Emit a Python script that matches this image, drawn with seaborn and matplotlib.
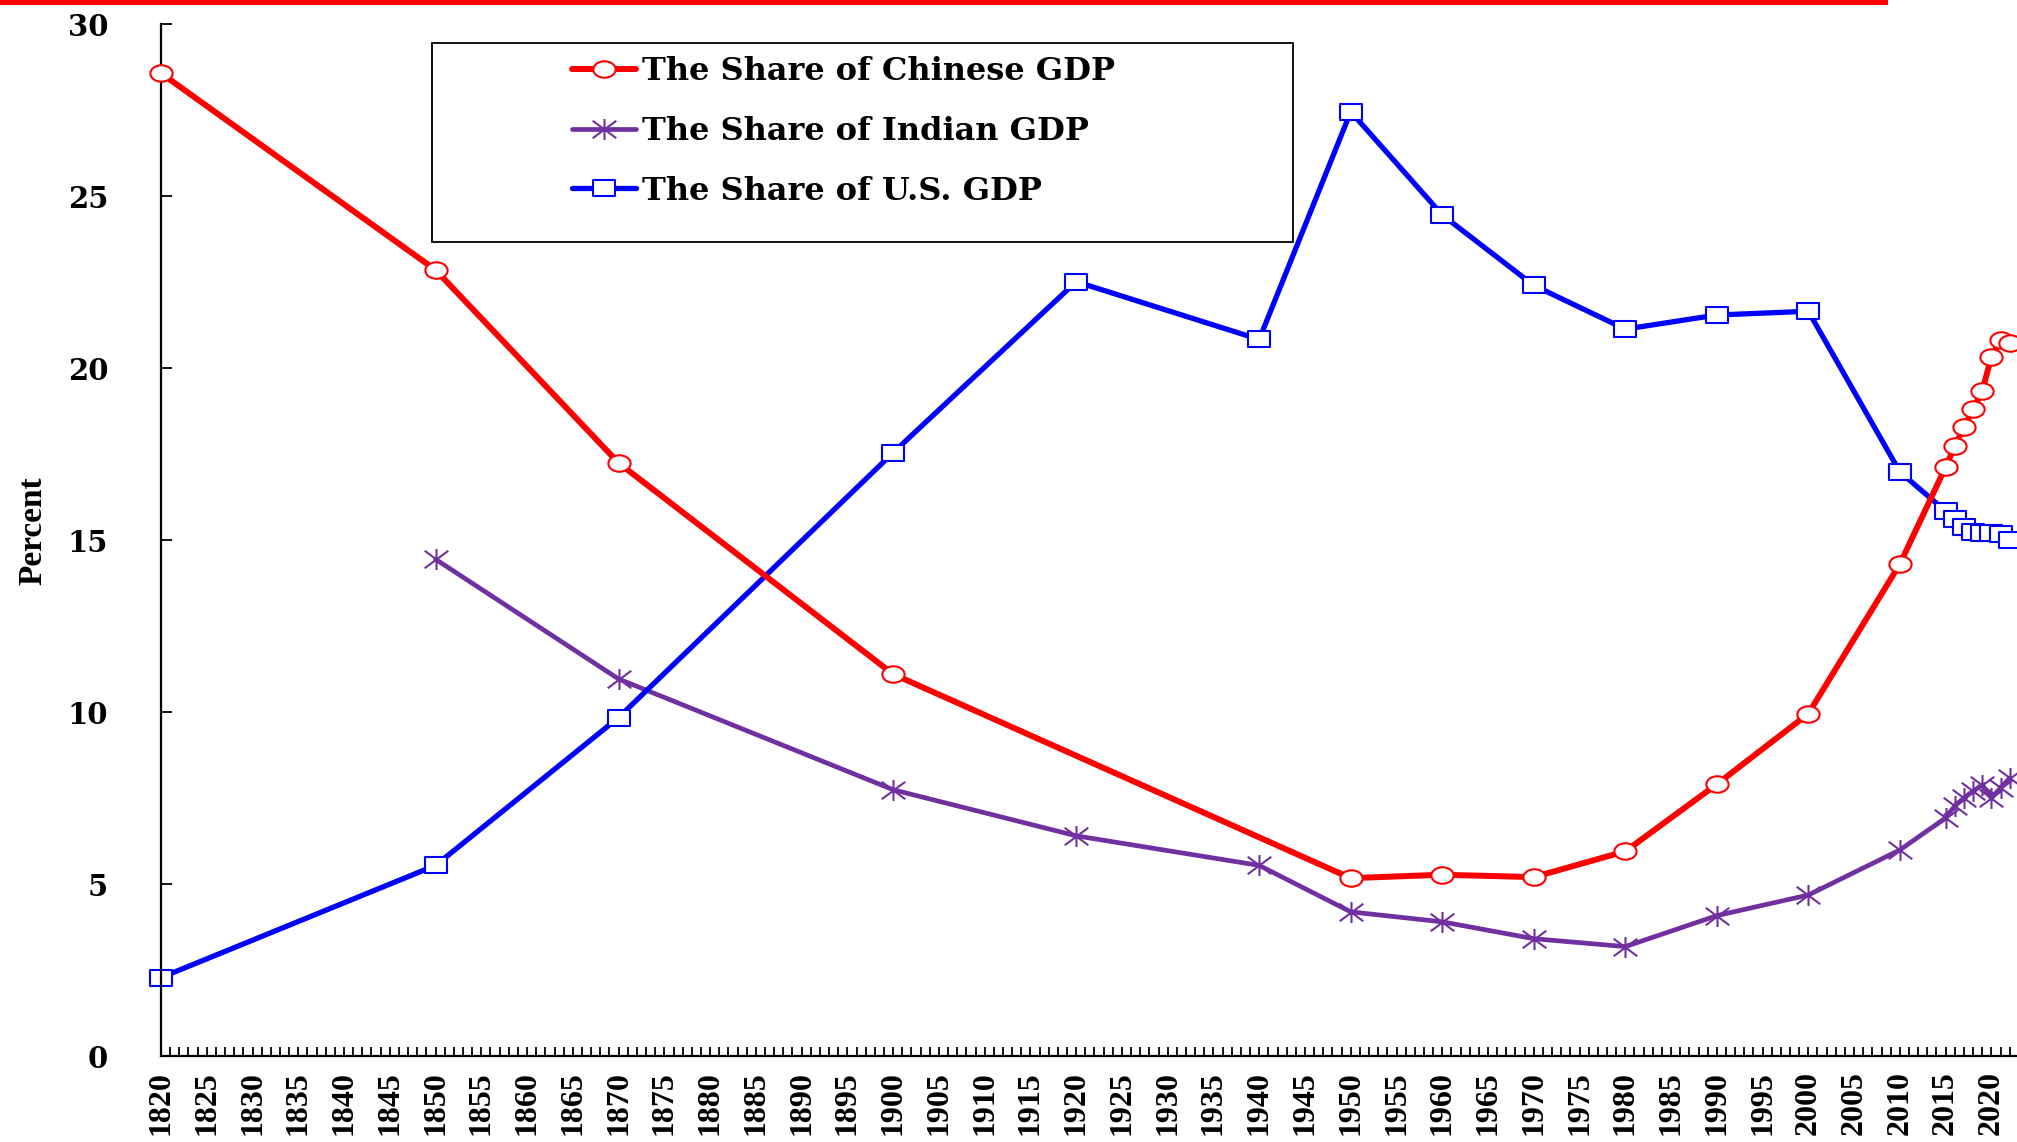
import numpy as np
import matplotlib
matplotlib.use("Agg")
import matplotlib.pyplot as plt
import seaborn as sns
from matplotlib.path import Path
from matplotlib.patches import Rectangle
from matplotlib.ticker import MultipleLocator

# share of world GDP, percent
china_years = [1820, 1850, 1870, 1900, 1950, 1960, 1970, 1980, 1990, 2000, 2010,
               2015, 2016, 2017, 2018, 2019, 2020, 2021, 2022]
china_share = [28.57, 22.85, 17.24, 11.1, 5.17, 5.27, 5.2, 5.95, 7.9, 9.95, 14.3,
               17.12, 17.73, 18.28, 18.8, 19.33, 20.32, 20.81, 20.73]

india_years = [1850, 1870, 1900, 1920, 1940, 1950, 1960, 1970, 1980, 1990, 2000, 2010,
               2015, 2016, 2017, 2018, 2019, 2020, 2021, 2022]
india_share = [14.44, 10.96, 7.74, 6.4, 5.54, 4.19, 3.9, 3.41, 3.18, 4.08, 4.68, 5.99,
               6.92, 7.27, 7.5, 7.7, 7.88, 7.5, 7.79, 8.08]

us_years = [1820, 1850, 1870, 1900, 1920, 1940, 1950, 1960, 1970, 1980, 1990, 2000, 2010,
            2015, 2016, 2017, 2018, 2019, 2020, 2021, 2022]
us_share = [2.28, 5.54, 9.84, 17.54, 22.51, 20.83, 27.45, 24.45, 22.4, 21.13, 21.54, 21.65, 16.98,
            15.84, 15.61, 15.38, 15.23, 15.2, 15.2, 15.17, 15.0]

labels = ["The Share of Chinese GDP", "The Share of Indian GDP", "The Share of U.S. GDP"]
label_years = list(range(1820, 2021, 5))

sns.set_style("ticks")
plt.rcParams['font.family'] = ['Liberation Serif', 'DejaVu Serif']
plt.rcParams['font.weight'] = 'bold'
for k in ['text.color', 'axes.labelcolor', 'xtick.color', 'ytick.color', 'axes.edgecolor']:
    plt.rcParams[k] = 'black'
# the original text is a wide bold serif, DejaVu Serif comes closest for horizontal text
wide = ['DejaVu Serif', 'Liberation Serif']

# markers are a bit wider than tall in the original
stretch = 1.35
circ = Path.unit_circle()
ellipse = Path(circ.vertices * [stretch, 1.0], circ.codes)
box = Path([(-stretch, -1), (stretch, -1), (stretch, 1), (-stretch, 1), (-stretch, -1)],
           [Path.MOVETO, Path.LINETO, Path.LINETO, Path.LINETO, Path.CLOSEPOLY])
star = Path([(-stretch, -1), (stretch, 1), (-stretch, 1), (stretch, -1), (0, -1.2), (0, 1.2)],
            [Path.MOVETO, Path.LINETO, Path.MOVETO, Path.LINETO, Path.MOVETO, Path.LINETO])

fig = plt.figure(figsize=(20.17, 11.42), dpi=100)
ax = fig.add_axes([161/2017, 1 - 1056/1142, 1 - 161/2017, (1056 - 24)/1142])

sns.lineplot(x=china_years, y=china_share, ax=ax, color='#FF0000', linewidth=4.3,
             marker=ellipse, markersize=16, markerfacecolor='white',
             markeredgecolor='#FF0000', markeredgewidth=1.5, errorbar=None,
             label=labels[0], clip_on=False, zorder=3)
sns.lineplot(x=india_years, y=india_share, ax=ax, color='#7030A0', linewidth=3.4,
             marker=star, markersize=17, markerfacecolor='none',
             markeredgecolor='#7030A0', markeredgewidth=1.5, errorbar=None,
             label=labels[1], clip_on=False, zorder=2)
sns.lineplot(x=us_years, y=us_share, ax=ax, color='#0000FF', linewidth=3.8,
             marker=box, markersize=16, markerfacecolor='white',
             markeredgecolor='#0000FF', markeredgewidth=1.5, errorbar=None,
             label=labels[2], clip_on=False, zorder=2)

ax.set_xlim(1820, 2022.8)
ax.set_ylim(0, 30)
ax.set_xticks(label_years)
ax.set_xticklabels([str(y) for y in label_years], rotation=90, fontsize=23, fontweight='bold')
ax.xaxis.set_minor_locator(MultipleLocator(1))
ax.set_yticks(range(0, 31, 5))
ax.set_yticklabels([str(v) for v in range(0, 31, 5)], fontsize=21, fontweight='bold', family=wide)
ax.tick_params(axis='x', which='both', direction='in', length=6.5, width=1.3, pad=11, color='black')
ax.tick_params(axis='y', which='major', direction='in', length=8, width=1.3, pad=38, color='black')
for s in ['top', 'right']:
    ax.spines[s].set_visible(False)
for s in ['left', 'bottom']:
    ax.spines[s].set_linewidth(1.6)
    ax.spines[s].set_color('black')
ax.set_xlabel('')
ax.set_ylabel('')

fig.text(33/2017, 1 - 531/1142, 'Percent', rotation=90, ha='center', va='center',
         fontsize=24, fontweight='bold')

# legend box drawn separately, entries sit towards its right side
fig.add_artist(Rectangle((432/2017, 1 - 242/1142), (1293 - 432)/2017, (242 - 43)/1142,
                         transform=fig.transFigure, fill=False, edgecolor='black', linewidth=1.3))
leg = ax.legend(loc='upper left', bbox_to_anchor=(572/2017, 1 - 56/1142),
                bbox_transform=fig.transFigure, frameon=False, borderpad=0, borderaxespad=0,
                handlelength=2.0, handletextpad=0.18, labelspacing=0.9, markerscale=1.0,
                prop={'family': wide, 'weight': 'bold', 'size': 23})

# red rule along the top edge
fig.add_artist(Rectangle((0, 1 - 5/1142), 1888/2017, 5/1142, transform=fig.transFigure,
                         facecolor='#FF0000', edgecolor='none'))

fig.savefig('out.png', dpi=100)
